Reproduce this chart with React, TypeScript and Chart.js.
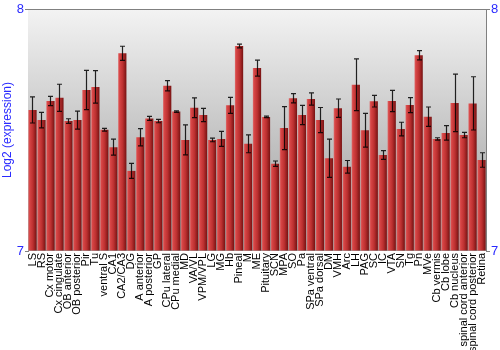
import React, { useEffect, useRef } from "react";
import { Chart, registerables } from "chart.js";

Chart.register(...registerables);

const categories = [
  "LS", "RS", "Cx motor", "Cx cingulate", "OB anterior", "OB posterior", "Pir", "Tu",
  "ventral S", "CA1", "CA2/CA3", "DG", "A anterior", "A posterior", "GP", "CPu lateral",
  "CPu medial", "MD", "VA/VL", "VPM/VPL", "LG", "MG", "Hb", "Pineal", "M", "ME",
  "Pituitary", "SCN", "MPA", "SO", "Pa", "SPa ventral", "SPa dorsal", "DM", "VMH", "Arc",
  "LH", "PAG", "SC", "IC", "VTA", "SN", "Tg", "Pn", "MVe", "Cb vermis", "Cb lobe",
  "Cb nucleus", "spinal cord anterior", "spinal cord posterior", "Retina",
];

const values = [
  7.583, 7.541, 7.62, 7.633, 7.537, 7.541, 7.665, 7.678,
  7.501, 7.429, 7.817, 7.331, 7.47, 7.548, 7.537, 7.683,
  7.576, 7.459, 7.592, 7.562, 7.459, 7.463, 7.602, 7.847, 7.443, 7.756,
  7.554, 7.361, 7.508, 7.631, 7.562, 7.628, 7.541, 7.383, 7.59, 7.348,
  7.687, 7.499, 7.619, 7.397, 7.62, 7.504, 7.603, 7.809, 7.555, 7.463, 7.488,
  7.612, 7.479, 7.61, 7.376,
];

const errors = [
  0.054, 0.032, 0.019, 0.056, 0.0095, 0.037, 0.081, 0.067,
  0.0055, 0.033, 0.029, 0.031, 0.036, 0.008, 0.007, 0.021,
  0.003, 0.062, 0.041, 0.027, 0.0075, 0.031, 0.033, 0.0075, 0.037, 0.033,
  0.003, 0.011, 0.089, 0.019, 0.04, 0.025, 0.052, 0.079, 0.038, 0.026,
  0.107, 0.07, 0.024, 0.018, 0.044, 0.028, 0.031, 0.019, 0.04, 0.005, 0.03,
  0.119, 0.011, 0.11, 0.03,
];

const yTicks = [7, 8];
const yTitle = "Log2 (expression)";

const BLUE = "#2a2aff";
const BAR_PCT = 0.92;

const bgPlugin = {
  id: "bgPlugin",
  beforeDatasetsDraw(chart: any) {
    const { ctx, chartArea: a } = chart;
    const g = ctx.createLinearGradient(0, a.top, 0, a.bottom);
    g.addColorStop(0, "#f3f3f3");
    g.addColorStop(1, "#999999");
    ctx.save();
    ctx.fillStyle = g;
    ctx.fillRect(a.left, a.top, a.right - a.left, a.bottom - a.top);
    ctx.restore();
  },
  afterDraw(chart: any) {
    const { ctx, chartArea: a } = chart;
    ctx.save();
    ctx.strokeStyle = "#808080";
    ctx.lineWidth = 1;
    ctx.beginPath();
    ctx.moveTo(a.left, a.top + 0.5);
    ctx.lineTo(a.right, a.top + 0.5);
    ctx.stroke();
    ctx.restore();
  },
};

const errorBarPlugin = {
  id: "errorBarPlugin",
  afterDatasetsDraw(chart: any) {
    const meta = chart.getDatasetMeta(0);
    const ys = chart.scales.y;
    const ctx = chart.ctx;
    ctx.save();
    ctx.strokeStyle = "rgba(0,0,0,0.85)";
    ctx.lineWidth = 1.2;
    meta.data.forEach((el: any, i: number) => {
      const x = Math.round(el.x) + 0.5;
      const yTop = ys.getPixelForValue(values[i] + errors[i]);
      const yBot = ys.getPixelForValue(values[i] - errors[i]);
      ctx.beginPath();
      ctx.moveTo(x, yTop);
      ctx.lineTo(x, yBot);
      ctx.moveTo(x - 2.5, yTop);
      ctx.lineTo(x + 2.5, yTop);
      ctx.moveTo(x - 2.5, yBot);
      ctx.lineTo(x + 2.5, yBot);
      ctx.stroke();
    });
    ctx.restore();
  },
};

export default function App() {
  const ref = useRef<HTMLCanvasElement | null>(null);

  useEffect(() => {
    if (!ref.current) return;
    const chart = new Chart(ref.current, {
      type: "bar",
      data: {
        labels: categories,
        datasets: [
          {
            data: values,
            base: 7,
            barPercentage: BAR_PCT,
            categoryPercentage: 1,
            borderWidth: 0,
            backgroundColor: (c: any) => {
              const ch = c.chart;
              const xs = ch.scales?.x;
              if (!xs || c.type !== "data" || !xs.width) return "#b03030";
              const cx = xs.getPixelForValue(c.dataIndex);
              const w = (xs.width / categories.length) * BAR_PCT;
              const g = ch.ctx.createLinearGradient(cx - w / 2, 0, cx + w / 2, 0);
              g.addColorStop(0, "#dc7070");
              g.addColorStop(0.15, "#d84646");
              g.addColorStop(0.55, "#bc3030");
              g.addColorStop(1, "#761212");
              return g;
            },
          },
        ],
      },
      options: {
        animation: false,
        responsive: true,
        maintainAspectRatio: false,
        layout: { padding: { top: 9, left: 0, right: 0, bottom: 0 } },
        plugins: {
          legend: { display: false },
          tooltip: { enabled: false },
          title: { display: false },
        },
        scales: {
          x: {
            grid: { display: false, drawTicks: false },
            border: { display: false },
            ticks: {
              autoSkip: false,
              maxRotation: 90,
              minRotation: 90,
              padding: 2,
              color: "#000000",
              font: { family: "'Liberation Sans', Arial, sans-serif", size: 11 },
            },
            afterFit: (s: any) => {
              s.height = 99;
            },
          },
          y: {
            position: "left",
            min: 7,
            max: 8,
            afterBuildTicks: (s: any) => {
              s.ticks = yTicks.map((v) => ({ value: v }));
            },
            grid: { display: true, drawOnChartArea: false, drawTicks: true, tickLength: 3, color: "#808080" },
            border: { display: true, color: "#808080" },
            ticks: {
              color: BLUE,
              padding: 1,
              font: { family: "'Liberation Sans', Arial, sans-serif", size: 13 },
            },
            title: {
              display: true,
              text: yTitle,
              color: BLUE,
              padding: 0,
              font: { family: "'Liberation Sans', Arial, sans-serif", size: 12 },
            },
            afterFit: (s: any) => {
              s.width = 28;
            },
          },
          y2: {
            position: "right",
            min: 7,
            max: 8,
            afterBuildTicks: (s: any) => {
              s.ticks = yTicks.map((v) => ({ value: v }));
            },
            grid: { display: true, drawOnChartArea: false, drawTicks: true, tickLength: 4, color: "#808080" },
            border: { display: true, color: "#808080" },
            ticks: {
              color: BLUE,
              padding: 1,
              font: { family: "'Liberation Sans', Arial, sans-serif", size: 13 },
            },
            afterFit: (s: any) => {
              s.width = 14;
            },
          },
        },
      },
      plugins: [bgPlugin, errorBarPlugin],
    } as any);
    return () => chart.destroy();
  }, []);

  return (
    <div style={{ position: "fixed", left: 0, top: 0, width: 500, height: 350, background: "#ffffff" }}>
      <canvas ref={ref} />
    </div>
  );
}
